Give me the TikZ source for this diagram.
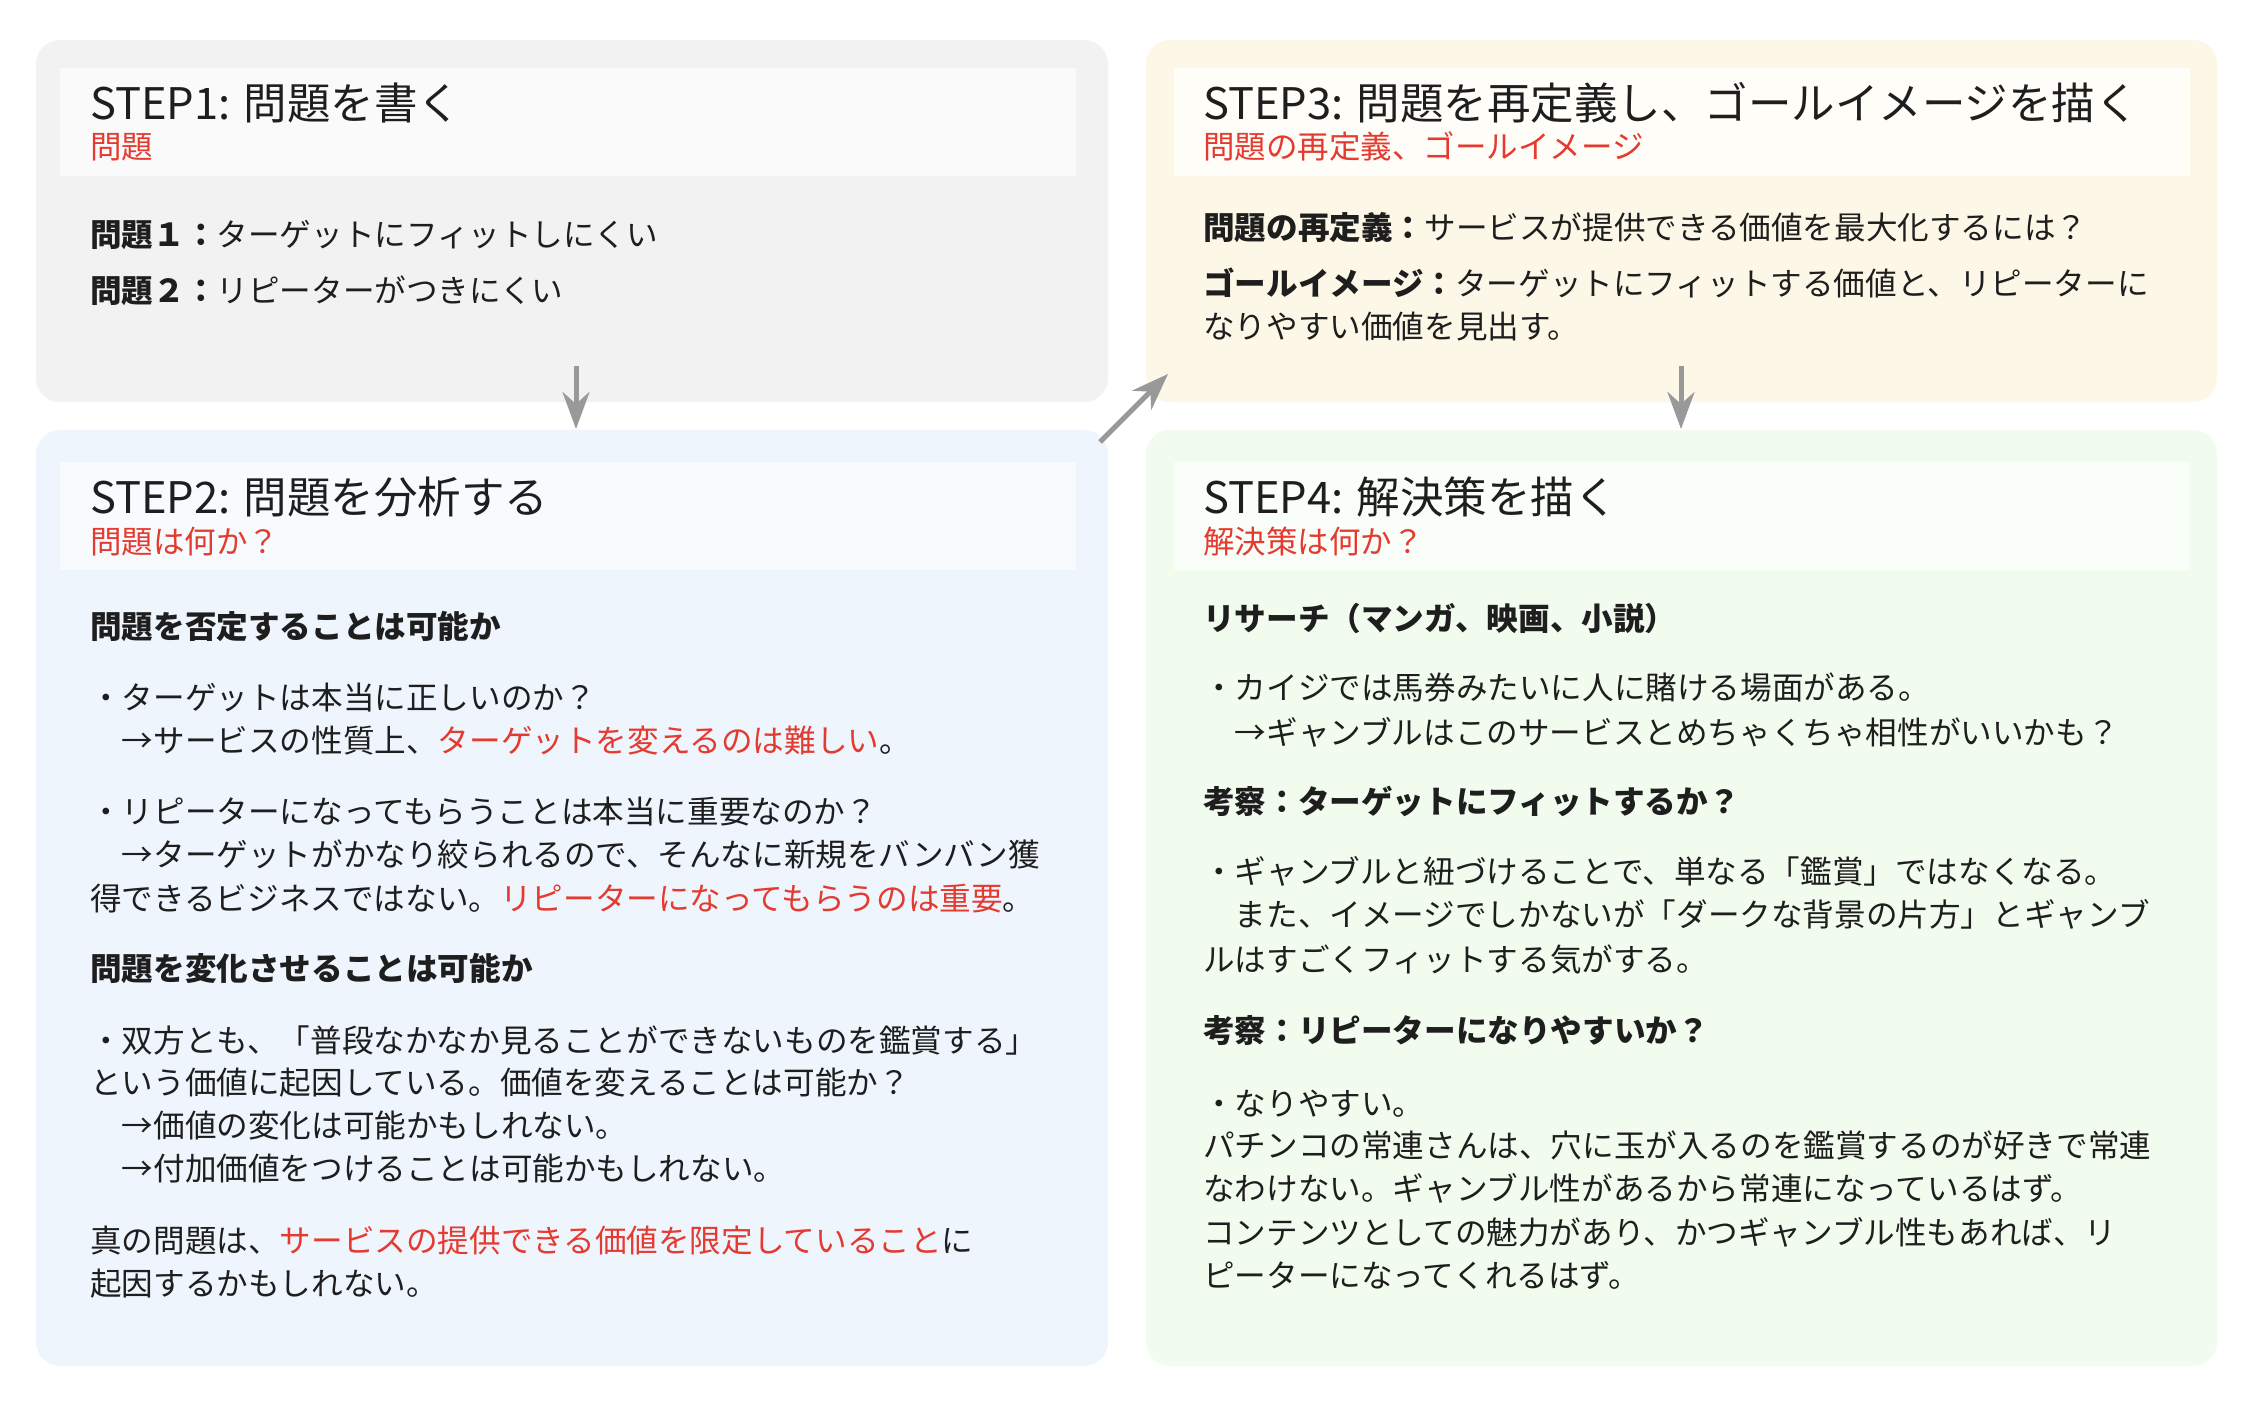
\documentclass[tikz,border=0pt]{standalone}
\usepackage{fontspec}
\setmainfont{Noto Sans CJK JP}
\usetikzlibrary{arrows.meta}
\definecolor{ink}{HTML}{1E1E1E}
\definecolor{accent}{HTML}{E53A2F}
\definecolor{arrowgray}{HTML}{999999}
\definecolor{bgA}{HTML}{F2F2F2}
\definecolor{hdA}{HTML}{FAFAFA}
\definecolor{bgB}{HTML}{EEF5FD}
\definecolor{hdB}{HTML}{F8FBFE}
\definecolor{bgC}{HTML}{FDF7E7}
\definecolor{hdC}{HTML}{FFFDF7}
\definecolor{bgD}{HTML}{F1FCEE}
\definecolor{hdD}{HTML}{FAFEF8}
\newcommand{\hl}[1]{\textcolor{accent}{#1}}
\begin{document}
\begin{tikzpicture}[x=1pt,y=-1pt,
  card/.style={rounded corners=24pt, inner sep=0pt, outer sep=0pt, anchor=north west, draw=none, minimum width=1072pt, minimum height=#1},
  hdr/.style={inner sep=0pt, outer sep=0pt, anchor=north west, draw=none, minimum width=1016pt, minimum height=108pt},
  txt/.style={anchor=base west, inner sep=0pt, text=ink, font=\fontsize{31.6pt}{31.6pt}\selectfont},
  hd/.style={anchor=base west, inner sep=0pt, text=ink, font=\fontsize{31.6pt}{31.6pt}\selectfont\bfseries},
  ttl/.style={anchor=base west, inner sep=0pt, text=ink, font=\fontsize{43.5pt}{43.5pt}\selectfont},
  sub/.style={anchor=base west, inner sep=0pt, text=accent, font=\fontsize{31.5pt}{31.5pt}\selectfont},
  flow/.style={draw=arrowgray, line width=5pt, -{Stealth[length=37pt,width=27pt,inset=12pt]}}]
\useasboundingbox[fill=white] (0,0) rectangle (2254,1402);

% cards
\node[card=362pt, fill=bgA] (b1) at (36,40) {};
\node[card=936pt, fill=bgB] (b2) at (36,430) {};
\node[card=362pt, fill=bgC, minimum width=1071pt] (b3) at (1146,40) {};
\node[card=936pt, fill=bgD, minimum width=1071pt] (b4) at (1146,430) {};
% headers
\node[hdr, fill=hdA] (h1) at (60,68) {};
\node[hdr, fill=hdB] (h2) at (60,462) {};
\node[hdr, fill=hdC] (h3) at (1174,68) {};
\node[hdr, fill=hdD] (h4) at (1174,462) {};

% STEP1
\node[ttl] (t1) at (90,119.5) {STEP1: 問題を書く};
\node[sub] (s1) at (90,159) {問題};
\node[txt] (p11) at (90,246) {{\bfseries 問題１：}ターゲットにフィットしにくい};
\node[txt] (p12) at (90,302) {{\bfseries 問題２：}リピーターがつきにくい};

% STEP3
\node[ttl] (t3) at (1203,119.5) {STEP3: 問題を再定義し、ゴールイメージを描く};
\node[sub] (s3) at (1203,159) {問題の再定義、ゴールイメージ};
\node[txt] (p31) at (1203,239) {{\bfseries 問題の再定義：}サービスが提供できる価値を最大化するには？};
\node[txt] (p32) at (1203,295) {{\bfseries ゴールイメージ：}ターゲットにフィットする価値と、リピーターに};
\node[txt] (p33) at (1203,338) {なりやすい価値を見出す。};

% STEP2
\node[ttl] (t2) at (90,513.5) {STEP2: 問題を分析する};
\node[sub] (s2) at (90,553) {問題は何か？};
\node[hd]  (p20) at (90,638) {問題を否定することは可能か};
\node[txt] (p21) at (90,709) {・ターゲットは本当に正しいのか？};
\node[txt] (p22) at (90,752) {　→サービスの性質上、\hl{ターゲットを変えるのは難しい}。};
\node[txt] (p23) at (90,823) {・リピーターになってもらうことは本当に重要なのか？};
\node[txt] (p24) at (90,866) {　→ターゲットがかなり絞られるので、そんなに新規をバンバン獲};
\node[txt] (p25) at (90,910) {得できるビジネスではない。\hl{リピーターになってもらうのは重要}。};
\node[hd]  (p26) at (90,980) {問題を変化させることは可能か};
\node[txt] (p27) at (90,1052) {・双方とも、「普段なかなか見ることができないものを鑑賞する」};
\node[txt] (p28) at (90,1094) {という価値に起因している。価値を変えることは可能か？};
\node[txt] (p29) at (90,1137) {　→価値の変化は可能かもしれない。};
\node[txt] (p2a) at (90,1180) {　→付加価値をつけることは可能かもしれない。};
\node[txt] (p2b) at (90,1252) {真の問題は、\hl{サービスの提供できる価値を限定していること}に};
\node[txt] (p2c) at (90,1295) {起因するかもしれない。};

% STEP4
\node[ttl] (t4) at (1203,513.5) {STEP4: 解決策を描く};
\node[sub] (s4) at (1203,553) {解決策は何か？};
\node[hd]  (p40) at (1203,630) {リサーチ（マンガ、映画、小説）};
\node[txt] (p41) at (1203,699) {・カイジでは馬券みたいに人に賭ける場面がある。};
\node[txt] (p42) at (1203,744) {　→ギャンブルはこのサービスとめちゃくちゃ相性がいいかも？};
\node[hd]  (p43) at (1203,813) {考察：ターゲットにフィットするか？};
\node[txt] (p44) at (1203,883) {・ギャンブルと紐づけることで、単なる「鑑賞」ではなくなる。};
\node[txt] (p45) at (1203,926) {　また、イメージでしかないが「ダークな背景の片方」とギャンブ};
\node[txt] (p46) at (1203,971) {ルはすごくフィットする気がする。};
\node[hd]  (p47) at (1203,1042) {考察：リピーターになりやすいか？};
\node[txt] (p48) at (1203,1115) {・なりやすい。};
\node[txt] (p49) at (1203,1157) {パチンコの常連さんは、穴に玉が入るのを鑑賞するのが好きで常連};
\node[txt] (p4a) at (1203,1200) {なわけない。ギャンブル性があるから常連になっているはず。};
\node[txt] (p4b) at (1203,1244) {コンテンツとしての魅力があり、かつギャンブル性もあれば、リ};
\node[txt] (p4c) at (1203,1287) {ピーターになってくれるはず。};

% connectors
\coordinate (a1s) at (576,366);
\coordinate (a1e) at (576,429);
\coordinate (a2s) at (1100,442);
\coordinate (a2e) at (1168,374);
\coordinate (a3s) at (1681,366);
\coordinate (a3e) at (1681,429);
\draw[flow] (a1s) -- (a1e);
\draw[flow] (a2s) -- (a2e);
\draw[flow] (a3s) -- (a3e);
\end{tikzpicture}
\end{document}
